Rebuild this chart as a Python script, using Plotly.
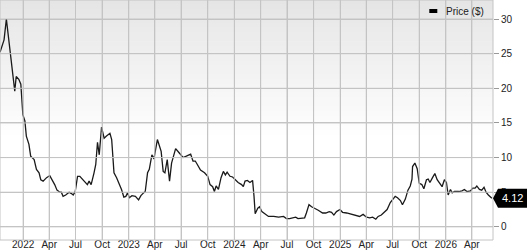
import plotly.graph_objects as go

dates = [
    "2021-10-13", "2021-10-27", "2021-11-04", "2021-12-03", "2021-12-08", "2021-12-17", "2021-12-24",
    "2021-12-31", "2022-01-07", "2022-01-12", "2022-01-21", "2022-01-27", "2022-02-08", "2022-02-16",
    "2022-02-25", "2022-03-03", "2022-03-11", "2022-03-23", "2022-04-03", "2022-04-12", "2022-04-20",
    "2022-04-28", "2022-05-08", "2022-05-13", "2022-05-19", "2022-05-28", "2022-06-09", "2022-06-17",
    "2022-06-23", "2022-06-30", "2022-07-08", "2022-07-16", "2022-07-25", "2022-08-03", "2022-08-11",
    "2022-08-17", "2022-08-24", "2022-09-03", "2022-09-09", "2022-09-15", "2022-09-21", "2022-09-29",
    "2022-10-08", "2022-10-16", "2022-10-28", "2022-11-03", "2022-11-11", "2022-11-20", "2022-11-29",
    "2022-12-07", "2022-12-15", "2022-12-22", "2022-12-28", "2023-01-03", "2023-01-12", "2023-01-24",
    "2023-02-04", "2023-02-12", "2023-02-21", "2023-02-27", "2023-03-07", "2023-03-13", "2023-03-22",
    "2023-03-29", "2023-04-10", "2023-04-15", "2023-04-23", "2023-04-30", "2023-05-06", "2023-05-14",
    "2023-05-22", "2023-05-29", "2023-06-12", "2023-06-24", "2023-07-08", "2023-07-19", "2023-08-03",
    "2023-08-11", "2023-08-19", "2023-08-26", "2023-09-06", "2023-09-20", "2023-10-01", "2023-10-09",
    "2023-10-18", "2023-10-24", "2023-10-30", "2023-11-07", "2023-11-16", "2023-11-24", "2023-12-01",
    "2023-12-07", "2023-12-17", "2023-12-26", "2024-01-03", "2024-01-14", "2024-01-26", "2024-02-01",
    "2024-02-07", "2024-02-15", "2024-02-24", "2024-03-04", "2024-03-09", "2024-03-13", "2024-03-22",
    "2024-03-28", "2024-04-05", "2024-04-17", "2024-04-28", "2024-05-16", "2024-06-02", "2024-06-19",
    "2024-06-29", "2024-07-10", "2024-07-22", "2024-07-31", "2024-08-08", "2024-08-19", "2024-08-31",
    "2024-09-06", "2024-09-15", "2024-09-24", "2024-10-05", "2024-10-17", "2024-11-01", "2024-11-12",
    "2024-11-24", "2024-12-02", "2024-12-10", "2024-12-19", "2024-12-31", "2025-01-09", "2025-01-23",
    "2025-02-03", "2025-02-26", "2025-03-09", "2025-03-21", "2025-04-02", "2025-04-13", "2025-04-23",
    "2025-05-04", "2025-05-12", "2025-05-23", "2025-06-04", "2025-06-12", "2025-06-23", "2025-07-02",
    "2025-07-10", "2025-07-18", "2025-07-28", "2025-08-04", "2025-08-14", "2025-08-23", "2025-08-31",
    "2025-09-06", "2025-09-08", "2025-09-16", "2025-09-24", "2025-10-01", "2025-10-10", "2025-10-17",
    "2025-10-26", "2025-11-01", "2025-11-07", "2025-11-16", "2025-11-24", "2025-12-02", "2025-12-09",
    "2025-12-19", "2025-12-27", "2026-01-03", "2026-01-09", "2026-01-17", "2026-01-23", "2026-01-31",
    "2026-02-15", "2026-02-26", "2026-03-06", "2026-03-15", "2026-03-27", "2026-04-04", "2026-04-12",
    "2026-04-18", "2026-04-27", "2026-05-05", "2026-05-13", "2026-05-20", "2026-05-28", "2026-06-09",
]

prices = [
    25.2, 27.0, 30.0, 19.6, 21.7, 21.3, 20.6,
    16.2, 15.3, 13.1, 11.9, 10.2, 9.7, 8.3,
    7.8, 6.8, 6.6, 7.1, 7.4, 6.8, 6.1,
    5.3, 5.0, 5.0, 4.4, 4.6, 5.0, 4.8,
    4.6, 5.1, 7.3, 7.3, 6.9, 6.6, 6.1,
    6.6, 6.1, 7.8, 9.0, 12.2, 10.4, 14.4,
    12.8, 13.1, 13.5, 12.6, 7.8, 7.1, 6.3,
    5.4, 4.3, 4.4, 4.9, 4.2, 4.5, 4.4,
    3.9, 4.5, 4.9, 5.1, 7.8, 8.3, 10.4,
    9.8, 12.6, 11.9, 10.9, 8.0, 7.8, 9.7,
    6.6, 9.2, 11.3, 10.7, 10.0, 10.2, 10.5,
    9.5, 9.5, 9.0, 8.2, 7.8, 7.3, 6.1,
    5.8, 5.1, 5.9, 5.4, 7.1, 8.0, 7.5,
    7.9, 7.3, 7.2, 6.8, 6.4, 6.1, 5.8,
    6.6, 6.7, 6.4, 6.7, 4.4, 1.9, 2.7,
    2.9, 2.2, 1.9, 1.5, 1.5, 1.4, 1.5,
    1.2, 1.2, 1.3, 1.4, 1.2, 1.2, 1.3,
    2.0, 3.2, 2.9, 2.6, 2.4, 2.0, 2.0,
    2.2, 2.1, 1.7, 2.2, 2.5, 2.1, 2.0,
    1.9, 1.6, 1.5, 1.8, 1.4, 1.3, 1.4,
    1.1, 1.5, 1.7, 2.1, 2.5, 3.5, 3.9,
    4.4, 4.2, 3.8, 3.2, 4.0, 5.3, 5.9,
    6.9, 8.7, 9.2, 8.4, 6.3, 6.1, 5.5,
    6.8, 6.9, 6.4, 7.1, 7.7, 6.8, 6.3,
    5.8, 6.8, 6.4, 4.6, 5.4, 4.9, 5.1,
    5.1, 5.2, 5.4, 5.1, 5.2, 5.6, 5.6,
    5.9, 5.4, 5.3, 5.7, 5.0, 4.6, 4.12,
]

x_tick_vals = ["2022-01-01", "2022-04-01", "2022-07-01", "2022-10-01",
               "2023-01-01", "2023-04-01", "2023-07-01", "2023-10-01",
               "2024-01-01", "2024-04-01", "2024-07-01", "2024-10-01",
               "2025-01-01", "2025-04-01", "2025-07-01", "2025-10-01",
               "2026-01-01", "2026-04-01"]
x_tick_text = ["2022", "Apr", "Jul", "Oct", "2023", "Apr", "Jul", "Oct",
               "2024", "Apr", "Jul", "Oct", "2025", "Apr", "Jul", "Oct",
               "2026", "Apr"]
y_tick_vals = [0, 5, 10, 15, 20, 25, 30]
series_name = "Price ($)"

FONT = "Liberation Sans, Arial, sans-serif"
PLOT_W, PLOT_H = 493, 240
X_RANGE = ["2021-10-13", "2026-06-13"]
Y_RANGE = [-1.9, 32.75]
px_per_unit = PLOT_H / (Y_RANGE[1] - Y_RANGE[0])
GRID = "#c4c4c4"

fig = go.Figure()
fig.add_trace(go.Scatter(
    x=dates, y=prices, mode="lines",
    line=dict(color="#1a1a1a", width=1.3), showlegend=False,
))

# gradient background (light gray at top fading to white)
shapes = []
n = 30
lo, hi = 0.42, 1.0
for i in range(n):
    y0 = lo + (hi - lo) * i / n
    y1 = lo + (hi - lo) * (i + 1) / n
    c = int(round(255 - (255 - 229) * (i + 0.5) / n))
    shapes.append(dict(type="rect", xref="paper", yref="paper",
                       x0=0, x1=1, y0=y0, y1=y1 + 0.002, line=dict(width=0),
                       fillcolor=f"rgb({c},{c},{c})", layer="below"))

# grid lines at the tick positions and plot frame
for tv in x_tick_vals:
    shapes.append(dict(type="line", xref="x", yref="paper", x0=tv, x1=tv, y0=0, y1=1,
                       line=dict(color=GRID, width=1), layer="above"))
for tv in y_tick_vals:
    shapes.append(dict(type="line", xref="paper", yref="y", x0=0, x1=1, y0=tv, y1=tv,
                       line=dict(color=GRID, width=1), layer="above"))
shapes.append(dict(type="rect", xref="paper", yref="paper", x0=0, x1=1, y0=0, y1=1,
                   line=dict(color=GRID, width=1), fillcolor="rgba(0,0,0,0)", layer="above"))

# legend swatch
shapes.append(dict(type="rect", xref="paper", yref="paper",
                   x0=429.3 / PLOT_W, x1=437.3 / PLOT_W,
                   y0=(PLOT_H - 13) / PLOT_H, y1=(PLOT_H - 9) / PLOT_H,
                   line=dict(width=0), fillcolor="#000000", layer="above"))

# last-value marker (arrow box) anchored at the last value
last_val = prices[-1]
hh = 9.5 / px_per_unit
xa, xb = 1 + 5 / PLOT_W, 1 + 34 / PLOT_W
shapes.append(dict(type="path", xref="paper", yref="y",
                   path=(f"M1,{last_val} L{xa},{last_val + hh} L{xb},{last_val + hh} "
                         f"L{xb},{last_val - hh} L{xa},{last_val - hh} Z"),
                   fillcolor="#000000", line=dict(width=0), layer="above"))

fig.update_layout(
    width=527, height=252,
    margin=dict(l=0, r=34, t=0, b=12, pad=0),
    paper_bgcolor="white", plot_bgcolor="rgba(0,0,0,0)",
    font=dict(family=FONT, size=10, color="#222"),
    shapes=shapes,
    showlegend=False,
    annotations=[
        dict(text=series_name, xref="paper", yref="paper", x=444 / PLOT_W,
             y=(PLOT_H - 11.5) / PLOT_H,
             xanchor="left", yanchor="middle", showarrow=False,
             font=dict(family=FONT, size=10, color="#222")),
        dict(text=f"{last_val:.2f}", xref="paper", yref="y", x=1 + 19.5 / PLOT_W, y=last_val,
             xanchor="center", yanchor="middle", showarrow=False,
             font=dict(family=FONT, size=11, color="white")),
    ],
    xaxis=dict(
        type="date", range=X_RANGE,
        tickvals=x_tick_vals, ticktext=x_tick_text,
        showgrid=True, gridcolor=GRID, gridwidth=1, showline=False,
        ticks="", ticklabelstandoff=-3,
        tickfont=dict(family=FONT, size=10, color="#222"),
        zeroline=False, automargin=False,
    ),
    yaxis=dict(
        side="right", range=Y_RANGE,
        tickvals=y_tick_vals,
        showgrid=True, gridcolor=GRID, gridwidth=1, showline=False,
        ticks="outside", ticklen=5, tickcolor="#999999",
        tickfont=dict(family=FONT, size=10, color="#222"),
        zeroline=False, automargin=False,
    ),
)

fig.write_html("out.html")
